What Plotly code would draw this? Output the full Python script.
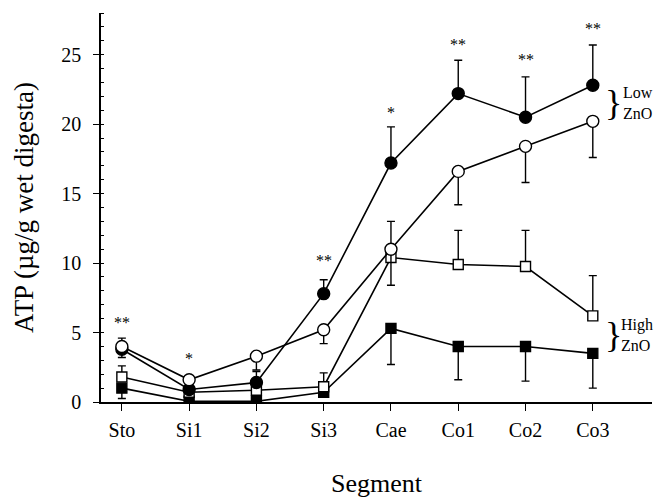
import plotly.graph_objects as go

segments = ["Sto", "Si1", "Si2", "Si3", "Cae", "Co1", "Co2", "Co3"]

low_filled = [3.8, 0.9, 1.4, 7.8, 17.2, 22.2, 20.5, 22.8]
low_filled_err = [0.8, 0.3, 0.8, 1.0, 2.6, 2.4, 2.9, 2.9]

low_open = [4.0, 1.6, 3.3, 5.2, 11.0, 16.6, 18.4, 20.2]
low_open_err = [0.8, 0.3, 1.0, 1.0, 2.6, 2.4, 2.6, 2.6]

high_open = [1.8, 0.7, 0.85, 1.1, 10.4, 9.9, 9.75, 6.2]
high_open_err = [0.8, 0.2, 0.2, 1.0, 2.6, 2.45, 2.6, 2.9]

high_filled = [1.0, 0.05, 0.05, 0.7, 5.3, 4.0, 4.0, 3.5]
high_filled_err = [0.75, 0.05, 0.05, 0.3, 2.6, 2.4, 2.5, 2.5]

star_labels = ["**", "*", "", "**", "*", "**", "**", "**"]
star_y = [5.9, 3.3, 0, 10.3, 21.0, 25.9, 24.8, 27.0]

y_ticks = [0, 5, 10, 15, 20, 25]

FONT = "Liberation Serif, Times New Roman, serif"
zeros = [0] * len(segments)

fig = go.Figure()

def add_series(name, y, err, up, symbol, fill, size):
    fig.add_trace(go.Scatter(
        x=segments, y=y, name=name, mode="lines+markers",
        line=dict(color="black", width=1.6),
        marker=dict(symbol=symbol, size=size, color=fill,
                    line=dict(color="black", width=1.4)),
        error_y=dict(type="data", symmetric=False,
                     array=err if up else zeros,
                     arrayminus=zeros if up else err,
                     color="black", thickness=1.4, width=4),
        showlegend=False,
    ))

add_series("High ZnO (filled)", high_filled, high_filled_err, False, "square", "black", 10)
add_series("High ZnO (open)", high_open, high_open_err, True, "square", "white", 10)
add_series("Low ZnO (filled)", low_filled, low_filled_err, True, "circle", "black", 12)
add_series("Low ZnO (open)", low_open, low_open_err, False, "circle", "white", 12)

for seg, lab, yv in zip(segments, star_labels, star_y):
    if lab:
        fig.add_annotation(x=seg, y=yv, text=lab, showarrow=False,
                           font=dict(family=FONT, size=16, color="#000000"),
                           yanchor="middle", yshift=-2)

# group braces
fig.add_annotation(x=7, y=21.5, text="}", showarrow=False, xshift=10,
                   font=dict(family=FONT, size=36, color="black"), xanchor="left", yanchor="middle")
fig.add_annotation(x=7, y=21.5, text="Low<br>ZnO", showarrow=False, xshift=28,
                   font=dict(family=FONT, size=16, color="black"), xanchor="left", yanchor="middle", align="left")
fig.add_annotation(x=7, y=4.8, text="}", showarrow=False, xshift=10,
                   font=dict(family=FONT, size=36, color="black"), xanchor="left", yanchor="middle")
fig.add_annotation(x=7, y=4.8, text="High<br>ZnO", showarrow=False, xshift=26,
                   font=dict(family=FONT, size=16, color="black"), xanchor="left", yanchor="middle", align="left")

fig.update_layout(
    width=657, height=498,
    margin=dict(l=101, r=5, t=13, b=96, autoexpand=False),
    paper_bgcolor="white", plot_bgcolor="white",
    font=dict(family=FONT, color="black"),
)
fig.update_xaxes(
    type="category", range=[-0.31, 7.88], automargin=False,
    showline=True, linecolor="black", linewidth=1.5,
    ticks="outside", ticklen=7, tickwidth=1.3, tickcolor="black",
    ticklabelstandoff=2,
    showgrid=False, zeroline=False,
    tickfont=dict(family=FONT, size=20, color="black"),
    title=dict(text="Segment", font=dict(family=FONT, size=26, color="black"), standoff=39),
)
fig.update_yaxes(
    range=[0, 28], tickvals=y_ticks, automargin=False,
    showline=True, linecolor="black", linewidth=1.5,
    ticks="outside", ticklen=6, tickwidth=1.3, tickcolor="black",
    ticklabelstandoff=8,
    minor=dict(ticks="inside", ticklen=3, dtick=1, tickcolor="black", tickwidth=1),
    showgrid=False, zeroline=False,
    tickfont=dict(family=FONT, size=20, color="black"),
    title=dict(text="ATP (µg/g wet digesta)", font=dict(family=FONT, size=27, color="black"), standoff=20),
)

fig.write_html("out.html", config={"displayModeBar": False},
               post_script="document.body.style.margin='0';")
